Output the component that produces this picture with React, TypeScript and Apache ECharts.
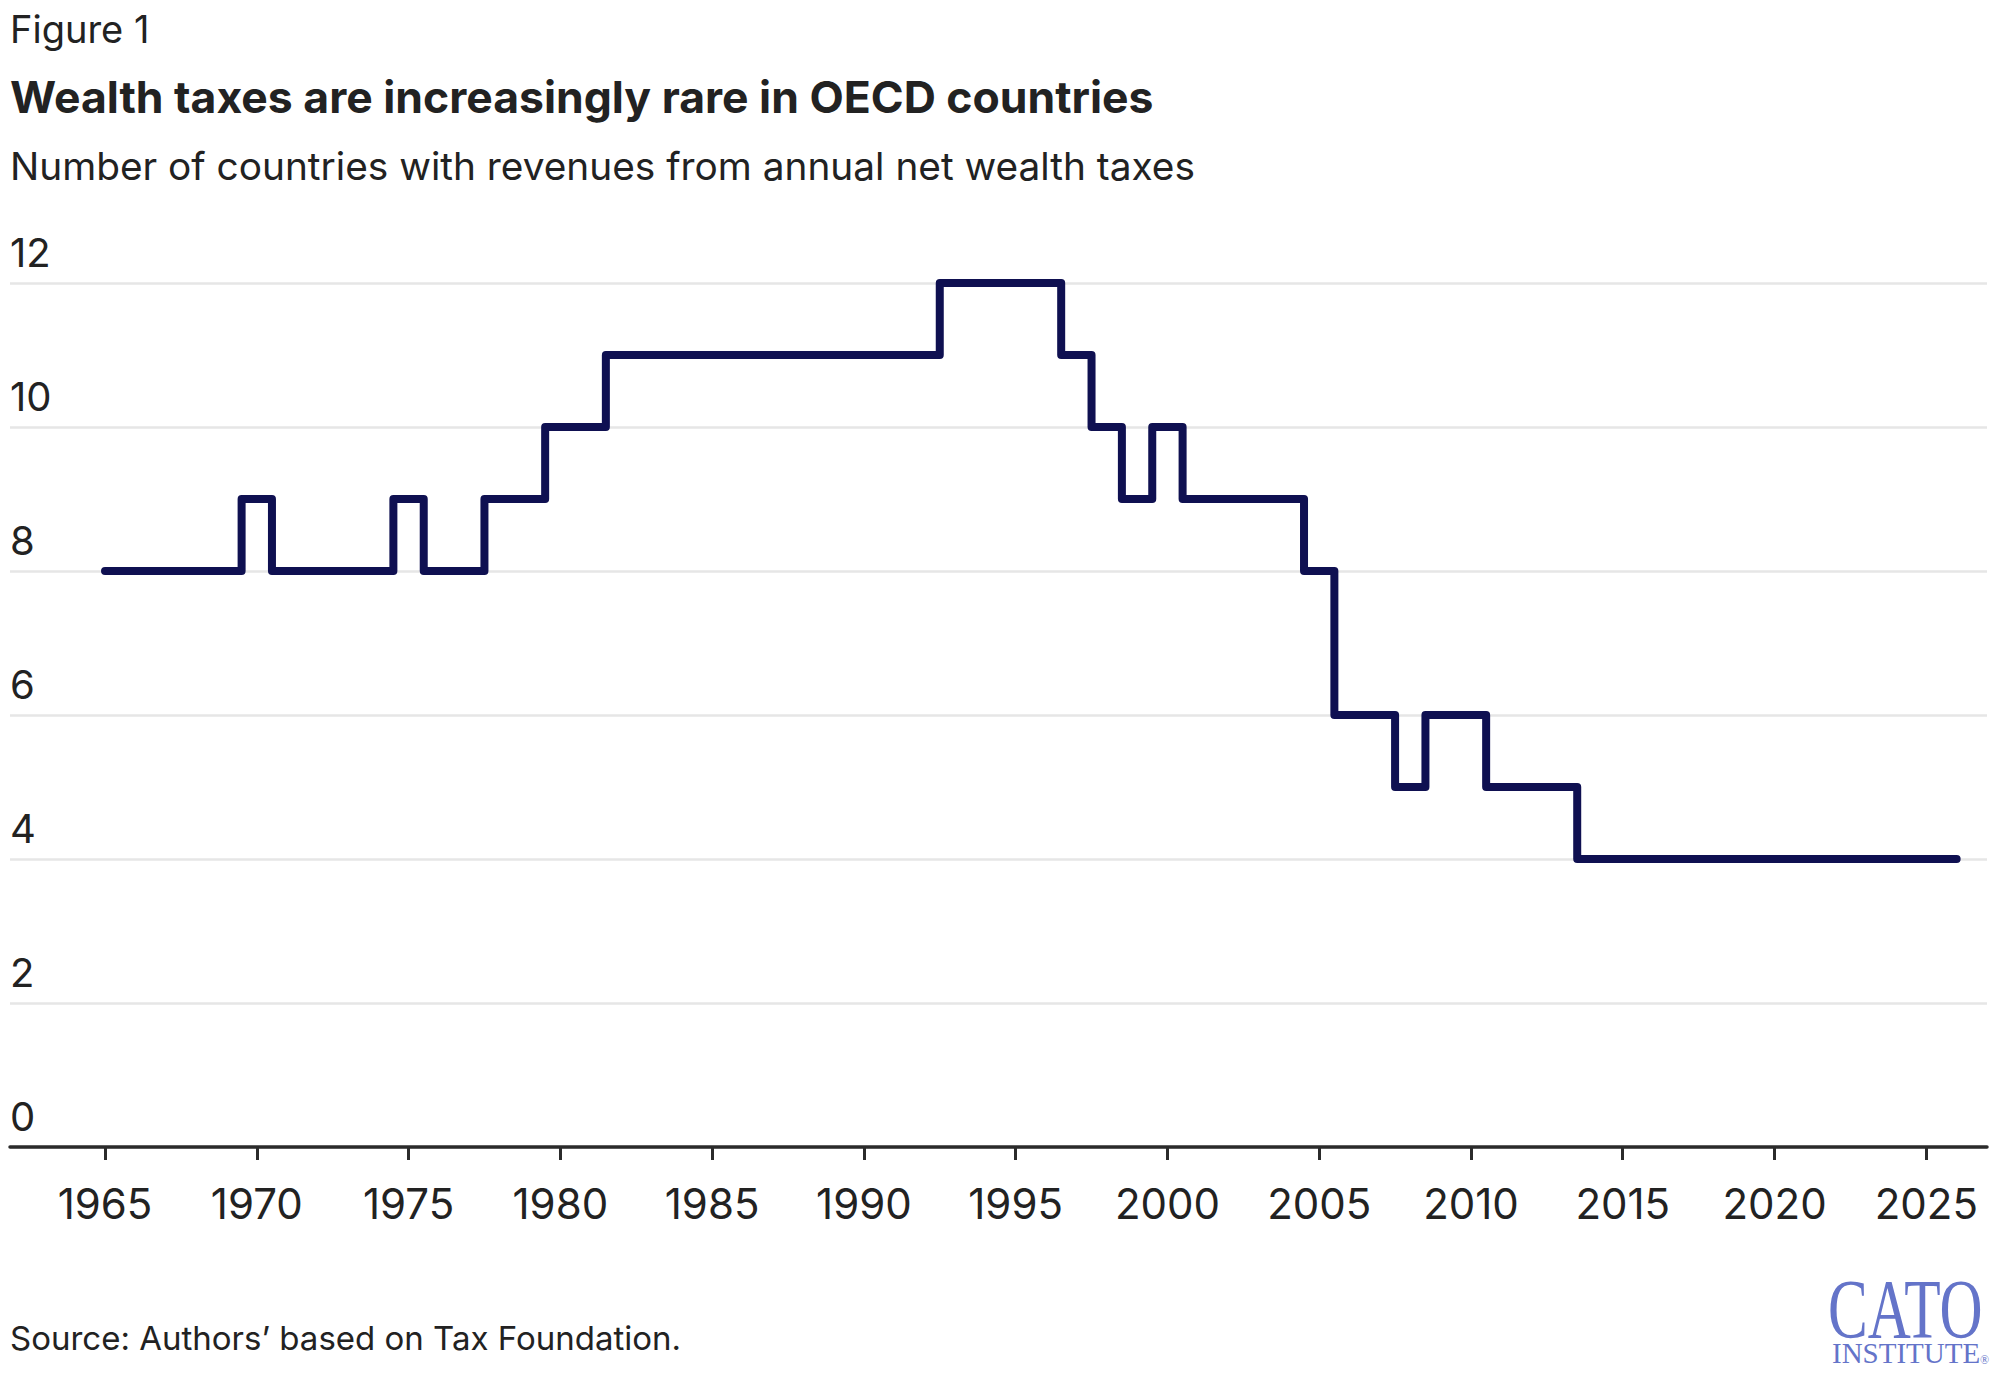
import React, { useEffect, useRef } from "react";
import * as echarts from "echarts";

const years = [
  1965, 1966, 1967, 1968, 1969, 1970, 1971, 1972, 1973, 1974,
  1975, 1976, 1977, 1978, 1979, 1980, 1981, 1982, 1983, 1984,
  1985, 1986, 1987, 1988, 1989, 1990, 1991, 1992, 1993, 1994,
  1995, 1996, 1997, 1998, 1999, 2000, 2001, 2002, 2003, 2004,
  2005, 2006, 2007, 2008, 2009, 2010, 2011, 2012, 2013, 2014,
  2015, 2016, 2017, 2018, 2019, 2020, 2021, 2022, 2023, 2024,
  2025, 2026,
];
const countries = [
  8, 8, 8, 8, 8, 9, 8, 8, 8, 8,
  9, 8, 8, 9, 9, 10, 10, 11, 11, 11,
  11, 11, 11, 11, 11, 11, 11, 11, 12, 12,
  12, 12, 11, 10, 9, 10, 9, 9, 9, 9,
  8, 6, 6, 5, 6, 6, 5, 5, 5, 4,
  4, 4, 4, 4, 4, 4, 4, 4, 4, 4,
  4, 4,
];
const xTickValues = [1965, 1970, 1975, 1980, 1985, 1990, 1995, 2000, 2005, 2010, 2015, 2020, 2025];
const yTickValues = [0, 2, 4, 6, 8, 10, 12];

const figureLabel = "Figure 1";
const titleText = "Wealth taxes are increasingly rare in OECD countries";
const subtitleText = "Number of countries with revenues from annual net wealth taxes";
const sourceText = "Source: Authors\u2019 based on Tax Foundation.";

const FONT = "Inter, Roboto, 'Liberation Sans', sans-serif";
const SERIF = "'Liberation Serif', 'DejaVu Serif', serif";

export default function App() {
  const ref = useRef<HTMLDivElement>(null);

  useEffect(() => {
    if (!ref.current) return;
    const chart = echarts.init(ref.current, undefined, { renderer: "svg" });
    const data = years.map((y, i) => [y, countries[i]]);
    chart.setOption({
      animation: false,
      backgroundColor: "#ffffff",
      grid: { left: 10, right: 10, top: 283, bottom: 229, containLabel: false },
      xAxis: {
        type: "value",
        min: 1961.87,
        max: 2027.0,
        axisLine: { show: true, lineStyle: { color: "#2b2b2b", width: 3.5 } },
        axisTick: {
          show: true,
          length: 13,
          customValues: xTickValues,
          lineStyle: { color: "#2b2b2b", width: 3 },
        },
        axisLabel: {
          show: true,
          customValues: xTickValues,
          margin: 35,
          fontFamily: FONT,
          fontSize: 42,
          color: "#222222",
          formatter: (v: number) => String(v),
        },
        splitLine: { show: false },
      },
      yAxis: {
        type: "value",
        min: 0,
        max: 12,
        interval: 2,
        axisLine: { show: false },
        axisTick: { show: false },
        axisLabel: {
          inside: true,
          margin: 0,
          align: "left",
          verticalAlign: "bottom",
          padding: [0, 0, 11, 0],
          fontFamily: FONT,
          fontSize: 40,
          color: "#222222",
          formatter: (v: number) => (yTickValues.indexOf(v) >= 0 ? String(v) : ""),
        },
        splitLine: { show: true, lineStyle: { color: "#e6e6e6", width: 2.5 } },
      },
      series: [
        {
          type: "line",
          step: "middle",
          data,
          showSymbol: false,
          symbol: "none",
          lineStyle: { color: "#0f1051", width: 8, cap: "round", join: "round" },
          z: 5,
        },
      ],
      graphic: [
        {
          type: "text",
          left: 10,
          top: 10,
          style: { text: figureLabel, font: `38px ${FONT}`, fill: "#222222" },
        },
        {
          type: "text",
          left: 10,
          top: 74,
          style: { text: titleText, font: `bold 44.5px ${FONT}`, fill: "#222222" },
        },
        {
          type: "text",
          left: 10,
          top: 146,
          style: { text: subtitleText, font: `38.8px ${FONT}`, fill: "#222222" },
        },
        {
          type: "text",
          left: 10,
          top: 1321,
          style: { text: sourceText, font: `33px ${FONT}`, fill: "#222222" },
        },
        {
          type: "group",
          x: 1828,
          y: 1310,
          scaleX: 0.71,
          children: [
            {
              type: "text",
              x: 0,
              y: 0,
              style: {
                text: "CATO",
                font: `84px ${SERIF}`,
                fill: "#6474c9",
                textAlign: "left",
                textVerticalAlign: "middle",
              },
            },
          ],
        },
        {
          type: "text",
          x: 1832,
          y: 1353,
          style: {
            text: "INSTITUTE",
            font: `29px ${SERIF}`,
            fill: "#6474c9",
            textAlign: "left",
            textVerticalAlign: "middle",
          },
        },
        {
          type: "text",
          x: 1980,
          y: 1360,
          style: {
            text: "\u00ae",
            font: `12px ${SERIF}`,
            fill: "#6474c9",
            textAlign: "left",
            textVerticalAlign: "middle",
          },
        },
      ],
    });
    return () => chart.dispose();
  }, []);

  return (
    <div
      ref={ref}
      style={{ position: "absolute", left: 0, top: 0, width: 1997, height: 1376, background: "#fff" }}
    />
  );
}
